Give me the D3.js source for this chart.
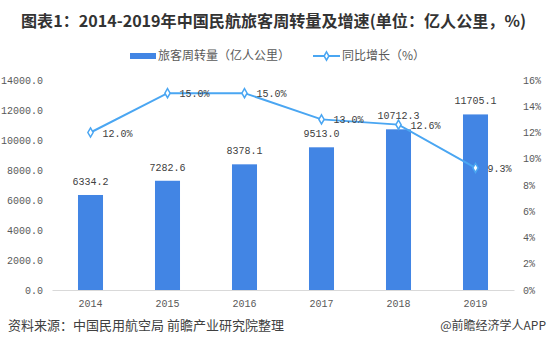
<!DOCTYPE html>
<html>
<head>
<meta charset="utf-8">
<script src="https://cdn.jsdelivr.net/npm/d3@7"></script>
<style>
  body { margin: 0; background: #fff; }
  text { font-family: "Noto Sans CJK SC", "DejaVu Sans", sans-serif; }
  .num { font-family: "Liberation Mono", "DejaVu Sans Mono", monospace; }
</style>
</head>
<body>
<svg id="chart" width="549" height="352"></svg>
<script>
// data
const years = ['2014', '2015', '2016', '2017', '2018', '2019'];
const turnover = [6334.2, 7282.6, 8378.1, 9513.0, 10712.3, 11705.1];
const growth = [12.0, 15.0, 15.0, 13.0, 12.6, 9.3];
const leftTicks = [0, 2000, 4000, 6000, 8000, 10000, 12000, 14000];
const rightTicks = [0, 2, 4, 6, 8, 10, 12, 14, 16];

const svg = d3.select('#chart');
const barColor = '#4285e4';
const lineColor = '#4aa6f2';
const axisColor = '#595959';
const labelColor = '#404040';

const x = d3.scaleBand().domain(years).range([52, 514]).paddingInner(0.675).paddingOuter(0.3375);
const yL = d3.scaleLinear().domain([0, 14000]).range([290, 80]);
const yR = d3.scaleLinear().domain([0, 16]).range([290, 80]);

// title
svg.append('text')
  .attr('x', 21).attr('y', 27)
  .attr('textLength', 505).attr('lengthAdjust', 'spacingAndGlyphs')
  .attr('font-size', 16).attr('font-weight', 'bold')
  .attr('fill', '#333')
  .text('图表1：2014-2019年中国民航旅客周转量及增速(单位：亿人公里，%)');

// legend
svg.append('rect').attr('x', 130).attr('y', 53).attr('width', 26).attr('height', 6).attr('fill', barColor);
svg.append('text').attr('x', 158).attr('y', 60).attr('font-size', 12).attr('fill', axisColor)
  .text('旅客周转量（亿人公里）');
svg.append('line').attr('x1', 313).attr('x2', 340).attr('y1', 56).attr('y2', 56)
  .attr('stroke', lineColor).attr('stroke-width', 2);
svg.append('path').attr('d', d3.symbol(d3.symbolDiamond, 20)())
  .attr('transform', 'translate(326.5,56)')
  .attr('fill', '#fff').attr('stroke', lineColor).attr('stroke-width', 1.5);
svg.append('text').attr('x', 342).attr('y', 60).attr('font-size', 12).attr('fill', axisColor)
  .text('同比增长（%）');

// axes
const axisL = svg.append('g').attr('transform', 'translate(43,0)')
  .call(d3.axisLeft(yL).tickValues(leftTicks).tickSize(0).tickFormat(d3.format('.1f')));
axisL.select('.domain').remove();
axisL.selectAll('text').attr('class', 'num').attr('font-size', 10).attr('fill', axisColor).attr('x', 0);

const axisR = svg.append('g').attr('transform', 'translate(523,0)')
  .call(d3.axisRight(yR).tickValues(rightTicks).tickSize(0).tickFormat(d => d + '%'));
axisR.select('.domain').remove();
axisR.selectAll('text').attr('class', 'num').attr('font-size', 10).attr('fill', axisColor).attr('x', 0);

const axisX = svg.append('g').attr('transform', 'translate(0,290)')
  .call(d3.axisBottom(x).tickSize(0).tickPadding(10));
axisX.select('.domain').attr('stroke', '#d9d9d9');
axisX.selectAll('text').attr('class', 'num').attr('font-size', 10).attr('fill', axisColor);

// bars
svg.selectAll('rect.bar')
  .data(years)
  .enter()
  .append('rect')
  .attr('class', 'bar')
  .attr('x', d => x(d))
  .attr('y', (d, i) => yL(turnover[i]))
  .attr('width', x.bandwidth())
  .attr('height', (d, i) => yL(0) - yL(turnover[i]))
  .attr('fill', barColor);

svg.selectAll('text.barlabel')
  .data(years)
  .enter()
  .append('text')
  .attr('class', 'num')
  .attr('x', d => x(d) + x.bandwidth() / 2)
  .attr('y', (d, i) => yL(turnover[i]) - 10)
  .attr('text-anchor', 'middle')
  .attr('font-size', 10).attr('fill', labelColor)
  .text((d, i) => turnover[i].toFixed(1));

// growth line
const cx = d => x(d) + x.bandwidth() / 2;
svg.append('path')
  .datum(years)
  .attr('d', d3.line().x(cx).y((d, i) => yR(growth[i])))
  .attr('fill', 'none').attr('stroke', lineColor).attr('stroke-width', 2);

svg.selectAll('path.marker')
  .data(years)
  .enter()
  .append('path')
  .attr('class', 'marker')
  .attr('d', d3.symbol(d3.symbolDiamond, 24)())
  .attr('transform', (d, i) => `translate(${cx(d)},${yR(growth[i])})`)
  .attr('fill', '#fff').attr('stroke', lineColor).attr('stroke-width', 1.5);

svg.selectAll('text.linelabel')
  .data(years)
  .enter()
  .append('text')
  .attr('class', 'num')
  .attr('x', d => cx(d) + 12)
  .attr('y', (d, i) => yR(growth[i]) + 4)
  .attr('font-size', 10).attr('fill', labelColor)
  .text((d, i) => growth[i].toFixed(1) + '%');

// footer
svg.append('text').attr('x', 8).attr('y', 330).attr('font-size', 13).attr('fill', labelColor)
  .text('资料来源：中国民用航空局 前瞻产业研究院整理');
svg.append('text').attr('x', 546).attr('y', 330).attr('text-anchor', 'end').attr('font-size', 12).attr('fill', labelColor)
  .text('@前瞻经济学人APP');
</script>
</body>
</html>
